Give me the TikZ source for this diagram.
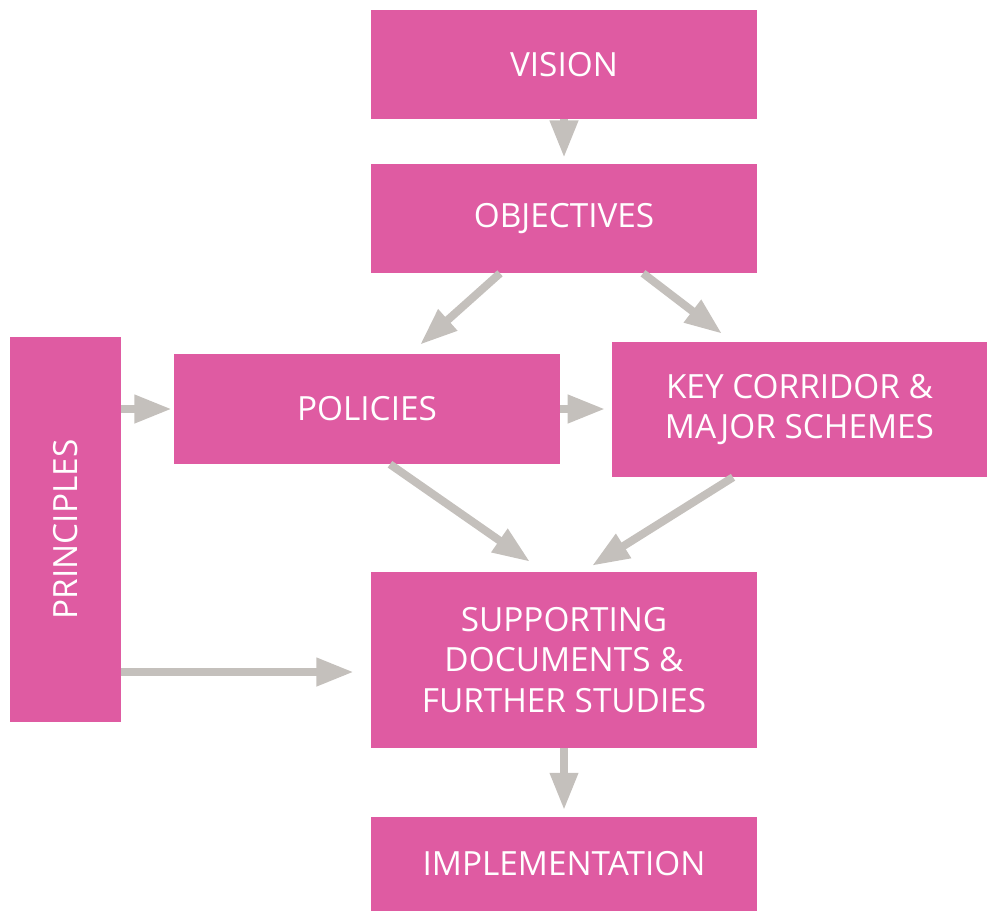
\documentclass[tikz,border=0pt]{standalone}
\usepackage{fontspec}
\setmainfont{Open Sans}
\usetikzlibrary{arrows.meta, calc, positioning}
\definecolor{boxpink}{RGB}{223,91,162}
\definecolor{arrowgrey}{RGB}{196,192,188}
\tikzstyle{block} = [rectangle, fill=boxpink, text=white, inner sep=0pt, align=center, font=\fontsize{25}{30.5}\selectfont]
\tikzstyle{arrow} = [draw=arrowgrey, line width=6pt, -{Triangle[length=28pt, width=20pt]}]

\begin{document}
\begin{tikzpicture}[x=0.75pt, y=-0.75pt]
	\useasboundingbox (0,0) rectangle (987,911);
	\node (Vision) [block, minimum width=289.5pt, minimum height=81.75pt] at (564,64.5) {VISION};
	\node (Objectives) [block, minimum width=289.5pt, minimum height=81.75pt] at (564,218.5) {OBJECTIVES};
	\node (Policies) [block, minimum width=289.5pt, minimum height=82.5pt] at (367,409) {POLICIES};
	\node (KeyCorridor) [block, minimum width=281.25pt, minimum height=101.25pt] at (799.5,409.5) {KEY CORRIDOR \&\\MAJOR SCHEMES};
	\node (Principles) [block, minimum width=288.75pt, minimum height=83.25pt, rotate=90] at (65.5,529.5) {PRINCIPLES};
	\node (Supporting) [block, minimum width=289.5pt, minimum height=132pt] at (564,660) {SUPPORTING\\DOCUMENTS \&\\FURTHER STUDIES};
	\node (Implementation) [block, minimum width=289.5pt, minimum height=70.5pt] at (564,864) {IMPLEMENTATION};
	\coordinate (ObjLeft) at ($(Objectives.south)+(-64,0)$);
	\coordinate (ObjRight) at ($(Objectives.south)+(79,0)$);
	\coordinate (PolIn) at ($(Policies.north)+(53,-9)$);
	\coordinate (KeyIn) at ($(KeyCorridor.north)+(-77.5,-8)$);
	\coordinate (PolOut) at ($(Policies.south)+(23,0)$);
	\coordinate (KeyOut) at ($(KeyCorridor.south)+(-66.5,0)$);
	\coordinate (SupInLeft) at ($(Supporting.north)+(-34,-10)$);
	\coordinate (SupInRight) at ($(Supporting.north)+(28,-6)$);
	\coordinate (PrinOut) at ($(Principles.south |- Supporting.west)+(0,12)$);
	\coordinate (SupInSide) at ($(Supporting.west)+(-17,12)$);
	\draw [arrow, shorten >=4.5pt] (Vision.south) -- (Objectives.north);
	\draw [arrow] (ObjLeft) -- (PolIn);
	\draw [arrow] (ObjRight) -- (KeyIn);
	\draw [arrow, shorten >=1.5pt] (Principles.south |- Policies.west) -- (Policies.west);
	\draw [arrow, shorten >=5pt] (Policies.east) -- (Policies.east -| KeyCorridor.west);
	\draw [arrow] (PolOut) -- (SupInLeft);
	\draw [arrow] (KeyOut) -- (SupInRight);
	\draw [arrow] (PrinOut) -- (SupInSide);
	\draw [arrow, shorten >=5pt] (Supporting.south) -- (Implementation.north);
\end{tikzpicture}
\end{document}
